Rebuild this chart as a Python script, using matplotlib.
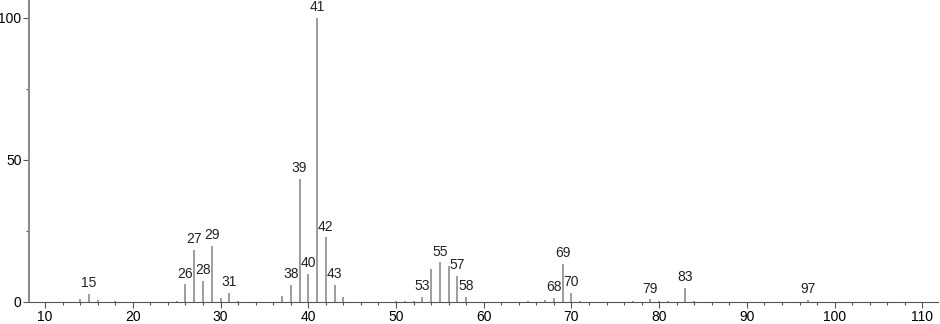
import matplotlib.pyplot as plt
from matplotlib.ticker import MultipleLocator

plt.rcParams['font.family'] = ['Liberation Sans', 'DejaVu Sans']

# m/z and relative intensity
mz = [14, 15, 16, 18, 25, 26, 27, 28, 29, 30, 31, 32, 37, 38, 39, 40, 41, 42, 43, 44,
      50, 51, 52, 53, 54, 55, 56, 57, 58, 65, 67, 68, 69, 70, 71, 77, 79, 80, 81, 83, 84, 97]
intensity = [0.9, 2.8, 0.7, 0.3, 0.5, 6.2, 18.3, 7.4, 19.7, 1.4, 3.3, 0.3, 2.2, 6.0, 43.4, 9.9, 100, 22.8, 6.0, 1.9,
             0.3, 0.5, 0.4, 1.9, 11.7, 14.0, 12.7, 9.3, 1.8, 0.4, 0.7, 1.4, 13.4, 3.3, 0.4, 0.3, 0.9, 0.5, 0.3, 5.0, 0.4, 0.8]
labelled = [15, 26, 27, 28, 29, 31, 38, 39, 40, 41, 42, 43, 53, 55, 57, 58, 68, 69, 70, 79, 83, 97]

fig = plt.figure(figsize=(9.4, 3.24), dpi=100)
ax = fig.add_axes([0.031, 0.068, 0.967, 0.932])

grey = '#8c8c8c'
ax.vlines(mz, 0, intensity, color=grey, linewidth=1.2)

for m, i in zip(mz, intensity):
    if m in labelled:
        ax.text(m, i + 1.3, str(m), ha='center', va='bottom', fontsize=10, color='#222222')

ax.set_xlim(8.18, 111.8)
ax.set_ylim(0, 106.3)
ax.xaxis.set_major_locator(MultipleLocator(10))
ax.xaxis.set_minor_locator(MultipleLocator(2))
ax.yaxis.set_major_locator(MultipleLocator(50))
ax.yaxis.set_minor_locator(MultipleLocator(25))

for s in ['top', 'right']:
    ax.spines[s].set_visible(False)
ax.spines['left'].set_color(grey)
ax.spines['left'].set_linewidth(1.5)
ax.spines['bottom'].set_color('#555555')
ax.spines['bottom'].set_linewidth(0.8)
ax.tick_params(axis='both', which='major', length=4, width=0.8, color='#555555', labelsize=10, pad=1.5)
ax.tick_params(axis='both', which='minor', length=2.5, width=0.8, color='#555555')

fig.savefig('out.png', dpi=100)
